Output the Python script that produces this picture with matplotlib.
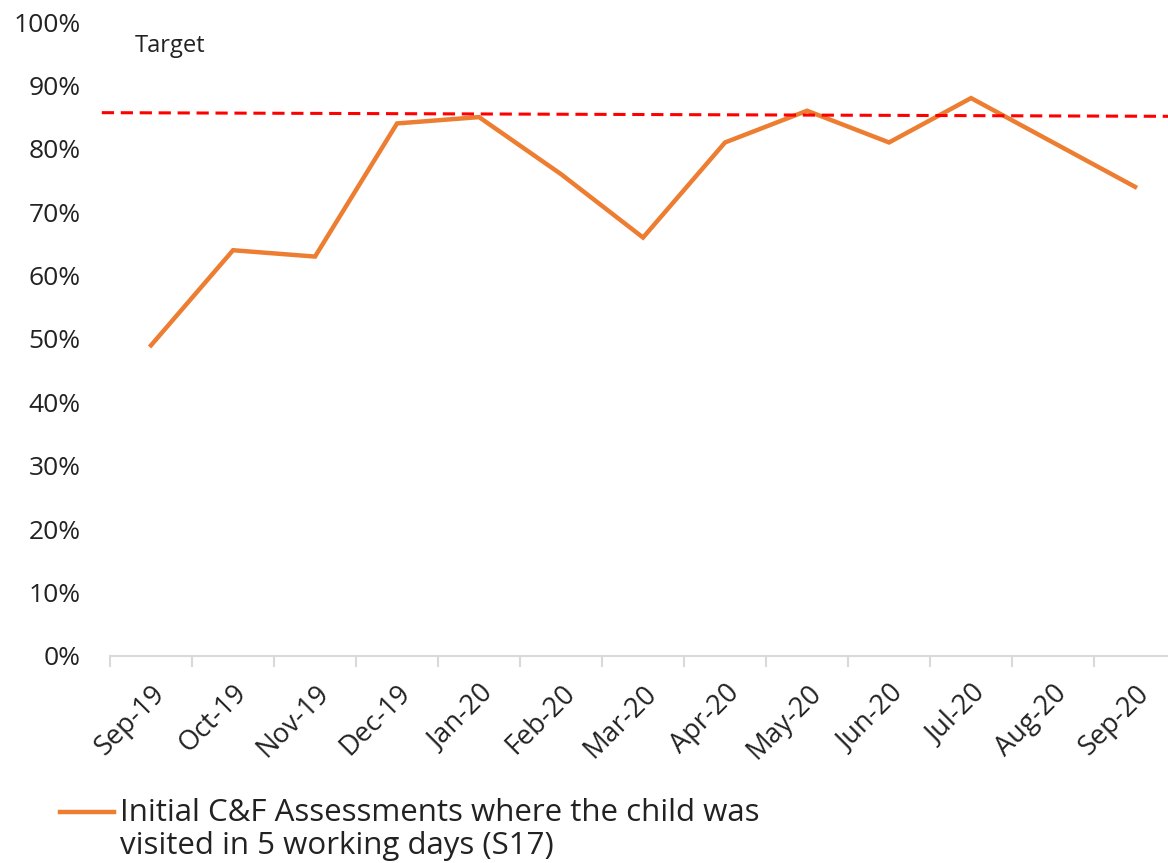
import numpy as np
import matplotlib.pyplot as plt
from matplotlib.lines import Line2D
from matplotlib.ticker import FixedLocator, FuncFormatter

plt.rcParams['font.family'] = ['Open Sans', 'DejaVu Sans']

# data
months = ['Sep-19', 'Oct-19', 'Nov-19', 'Dec-19', 'Jan-20', 'Feb-20', 'Mar-20',
          'Apr-20', 'May-20', 'Jun-20', 'Jul-20', 'Aug-20', 'Sep-20']
visited_pct = [49, 64, 63, 84, 85, 76, 66, 81, 86, 81, 88, 81, 74]
target_pct = [85.7, 85.1]  # dashed target line, left end and right end
series_label = 'Initial C&F Assessments where the child was\nvisited in 5 working days (S17)'

fig = plt.figure(figsize=(11.68, 8.63), dpi=100)
ax = fig.add_axes([0.0942, 0.2399, 0.9127, 0.7346])

x = np.arange(len(months))
line, = ax.plot(x, visited_pct, color='#ED7D31', linewidth=3.2,
                solid_joinstyle='miter', label=series_label)

# target line runs a bit past the left of the plot area
ax.plot([-0.6, 12.93], target_pct, color='#FF0000', linewidth=2.2,
        linestyle=(0, (4, 2.2)), clip_on=False)
ax.text(-0.2, 96.2, 'Target', fontsize=17, color='#222222', va='center')

ax.set_xlim(-0.5, 12.5)
ax.set_ylim(0, 100)

ax.set_yticks(np.arange(0, 101, 10))
ax.yaxis.set_major_formatter(FuncFormatter(lambda v, p: f'{v:.0f}%'))
ax.tick_params(axis='y', length=0, pad=21, labelsize=19, labelcolor='#222222')

ax.set_xticks(x)
ax.set_xticklabels(months, rotation=45, ha='right', rotation_mode='anchor')
ax.tick_params(axis='x', which='major', length=0, pad=17, labelsize=19.5,
               labelcolor='#222222')
ax.xaxis.set_minor_locator(FixedLocator(np.arange(-0.5, 13, 1)))
ax.tick_params(axis='x', which='minor', length=8, width=1.5, color='#D9D9D9')

for s in ['top', 'right', 'left']:
    ax.spines[s].set_visible(False)
ax.spines['bottom'].set_color('#D9D9D9')
ax.spines['bottom'].set_linewidth(1.5)

# legend drawn by hand so the key sits beside the first text line
fig.add_artist(Line2D([0.051, 0.098], [0.0595, 0.0595], transform=fig.transFigure,
                      color=line.get_color(), linewidth=3.2))
fig.text(0.1025, 0.0755, line.get_label(), fontsize=22.5, color='#222222',
         va='top', linespacing=1.15)

fig.savefig('out.png', dpi=100)
